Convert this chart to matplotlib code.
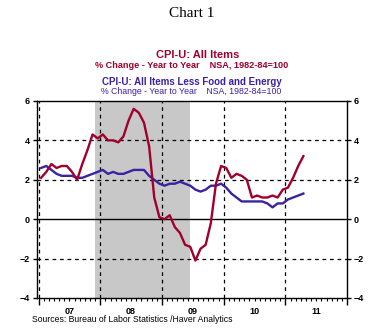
import matplotlib.pyplot as plt
import matplotlib.transforms as mtransforms
import numpy as np

plt.rcParams['font.family'] = ['Liberation Sans', 'DejaVu Sans']

# monthly year-over-year % change, Jan 2007 - Apr 2011
cpi_all = [2.1, 2.4, 2.8, 2.6, 2.7, 2.7, 2.4, 2.0, 2.8, 3.5, 4.3, 4.1,
           4.3, 4.0, 4.0, 3.9, 4.2, 5.0, 5.6, 5.4, 4.9, 3.7, 1.1, 0.1,
           0.0, 0.2, -0.4, -0.7, -1.3, -1.4, -2.1, -1.5, -1.3, -0.2, 1.8, 2.7,
           2.6, 2.1, 2.3, 2.2, 2.0, 1.1, 1.2, 1.1, 1.1, 1.2, 1.1, 1.5,
           1.6, 2.1, 2.7, 3.2]
cpi_core = [2.6, 2.7, 2.5, 2.3, 2.2, 2.2, 2.2, 2.1, 2.1, 2.2, 2.3, 2.4,
            2.5, 2.3, 2.4, 2.3, 2.3, 2.4, 2.5, 2.5, 2.5, 2.2, 2.0, 1.8,
            1.7, 1.8, 1.8, 1.9, 1.8, 1.7, 1.5, 1.4, 1.5, 1.7, 1.7, 1.8,
            1.6, 1.3, 1.1, 0.9, 0.9, 0.9, 0.9, 0.9, 0.8, 0.6, 0.8, 0.8,
            1.0, 1.1, 1.2, 1.3]
year_labels = ['07', '08', '09', '10', '11']
recession = (2007 + 11 / 12, 2009 + 5.5 / 12)

red = '#A0002C'
blue = '#3B22A0'

t = 2007 + (np.arange(len(cpi_all)) + 0.5) / 12

fig = plt.figure(figsize=(3.72, 3.31), dpi=100)
ax = fig.add_axes([0.0995, 0.0997, 0.8335, 0.5953])

ax.axvspan(recession[0], recession[1], color='#C8C8C8', lw=0, zorder=0)
for y in [4, 2, -2]:
    ax.axhline(y, color='k', ls=(0, (3, 3)), lw=0.9, zorder=1)
ax.axhline(0, color='k', lw=1.0, zorder=1)
for x in [2007.01, 2008, 2009, 2010, 2011]:
    ax.axvline(x, color='k', ls=(0, (3, 3)), lw=0.9, zorder=1)

ax.plot(t, cpi_core, color=blue, lw=1.7, zorder=3)
ax.plot(t, cpi_all, color=red, lw=1.7, zorder=4)

ax.set_xlim(2006.975, 2012.0)
ax.set_ylim(-4, 6)
ax.set_yticks([-4, -2, 0, 2, 4, 6])
ax.set_xticks(range(2007, 2013))
ax.set_xticklabels([])
ax.set_xticks(np.arange(2007, 2012, 1 / 12), minor=True)
ax.tick_params(axis='x', which='major', length=5, width=1, direction='out')
ax.tick_params(axis='x', which='minor', length=2.5, width=0.8, direction='out')
ax.tick_params(axis='y', length=3, width=1, direction='out', right=True,
               labelright=True, labelsize=6.5, pad=2)
for lab in ax.get_yticklabels(which='both'):
    lab.set_fontweight('bold')
for s in ax.spines.values():
    s.set_linewidth(1.0)

trans = mtransforms.blended_transform_factory(ax.transData, ax.transAxes)
for i, lab in enumerate(year_labels):
    ax.text(2007.5 + i, -0.045, lab, transform=trans, ha='center', va='top',
            fontsize=6.5, fontweight='bold')

fig.text(0.515, 0.96, 'Chart 1', ha='center', va='center',
         family='Liberation Serif', fontsize=11)
fig.text(0.531, 0.833, 'CPI-U: All Items', ha='center', va='center',
         color=red, fontsize=8, fontweight='bold')
fig.text(0.515, 0.803, '% Change - Year to Year    NSA, 1982-84=100',
         ha='center', va='center', color=red, fontsize=6.6, fontweight='bold')
fig.text(0.515, 0.752, 'CPI-U: All Items Less Food and Energy', ha='center',
         va='center', color=blue, fontsize=7, fontweight='bold')
fig.text(0.515, 0.724, '% Change - Year to Year    NSA, 1982-84=100',
         ha='center', va='center', color=blue, fontsize=6.3)
fig.text(0.086, 0.035, 'Sources: Bureau of Labor Statistics /Haver Analytics',
         ha='left', va='center', fontsize=6.2)

fig.savefig('out.png', dpi=100)
